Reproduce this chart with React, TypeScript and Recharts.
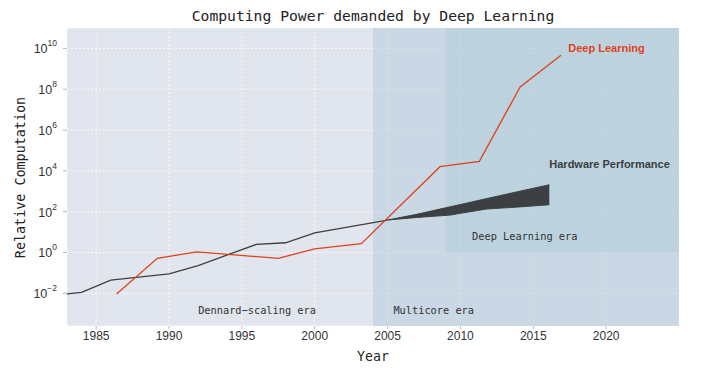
import { Area, CartesianGrid, ComposedChart, Line, ReferenceArea, ReferenceDot, XAxis, YAxis } from 'recharts'

// deep learning demand (relative computation)
const dlYears = [1986.4, 1989.2, 1991.9, 1997.5, 2000.0, 2003.2, 2008.6, 2011.3, 2014.1, 2016.9]
const dlValues = [0.0093, 0.52, 1.07, 0.52, 1.5, 2.7, 1.6e4, 2.9e4, 1.3e8, 4.6e9]

// hardware performance, single line up to 2005
const hwYears = [1983, 1984, 1986, 1990, 1992, 1996, 1998, 2000, 2005]
const hwValues = [0.0093, 0.011, 0.044, 0.089, 0.23, 2.5, 3.0, 9.1, 39]

// hardware performance band after 2005
const bandYears = [2005, 2007, 2009.3, 2010, 2011.8, 2014, 2016.1]
const bandLow = [39, 52, 68, 83, 135, 170, 219]
const bandHigh = [39, 74, 174, 224, 437, 977, 2089]

const xTicks = [1985, 1990, 1995, 2000, 2005, 2010, 2015, 2020]
const yTicks = [1e-2, 1, 1e2, 1e4, 1e6, 1e8, 1e10]

const eraLabels = [
  { text: 'Dennard−scaling era', year: 1992.0, value: 0.0015 },
  { text: 'Multicore era', year: 2005.4, value: 0.0015 },
  { text: 'Deep Learning era', year: 2010.8, value: 6 },
]

const seriesLabels = [
  { text: 'Deep Learning', year: 2017.4, value: 1e10, color: '#e2401c' },
  { text: 'Hardware Performance', year: 2016.1, value: 2.2e4, color: '#3b3e41' },
]

const RED = '#e2401c'
const DARK = '#3d4042'
const MONO = '"DejaVu Sans Mono", monospace'
const SANS = '"Liberation Sans", Arial, sans-serif'
const Y_MIN = 2.5e-4
const Y_MAX = 1e11

const dlData = dlYears.map((year, i) => ({ year, value: dlValues[i] }))
const hwData = hwYears.map((year, i) => ({ year, value: hwValues[i] }))
const bandData = bandYears.map((year, i) => ({ year, range: [bandLow[i], bandHigh[i]] }))

function YTick({ x, y, payload }: any) {
  const exp = Math.round(Math.log10(payload.value))
  const expText = exp < 0 ? `−${-exp}` : `${exp}`
  return (
    <text x={x} y={y + 5} textAnchor="end" fill="#333" fontFamily={SANS} fontSize={12.5}>
      10
      <tspan dy={-7} fontSize={8.5}>{expText}</tspan>
    </text>
  )
}

function XTick({ x, y, payload }: any) {
  return (
    <text x={x} y={y + 9} textAnchor="middle" fill="#333" fontFamily={SANS} fontSize={12}>
      {payload.value}
    </text>
  )
}

function textLabel(text: string, color: string, font: string, size: number, weight: string) {
  return (p: any) => {
    const vb = p.viewBox || {}
    const x = (vb.x ?? 0) + (vb.width ?? 0) / 2
    const y = (vb.y ?? 0) + (vb.height ?? 0) / 2
    return (
      <text x={x} y={y} dy={size * 0.36} textAnchor="start" fill={color} fontFamily={font} fontSize={size} fontWeight={weight}>
        {text}
      </text>
    )
  }
}

export default function App() {
  return (
    <div style={{ position: 'absolute', left: 0, top: 0, width: 728, height: 376, background: '#fff' }}>
      <ComposedChart width={728} height={376} margin={{ top: 28, right: 49, left: 0, bottom: 20 }}>
        <CartesianGrid fill="#e1e5ed" stroke="#ffffff" strokeOpacity={0.75} strokeDasharray="2 2" />
        <ReferenceArea x1={2004} x2={2025} y1={Y_MIN} y2={Y_MAX} fill="#b1cbdb" fillOpacity={0.5} stroke="none" ifOverflow="hidden" />
        <ReferenceArea x1={2009} x2={2025} y1={1} y2={Y_MAX} fill="#9ec7d3" fillOpacity={0.3} stroke="none" ifOverflow="hidden" />
        <XAxis
          type="number"
          dataKey="year"
          domain={[1983, 2025]}
          ticks={xTicks}
          allowDataOverflow
          height={30}
          axisLine={false}
          tickSize={3}
          tickMargin={2}
          tickLine={{ stroke: '#bbb' }}
          tick={<XTick />}
        />
        <YAxis
          type="number"
          scale="log"
          domain={[Y_MIN, Y_MAX]}
          ticks={yTicks}
          allowDataOverflow
          width={67}
          axisLine={false}
          tickSize={4}
          tickMargin={6}
          tickLine={{ stroke: '#bbb' }}
          tick={<YTick />}
        />
        <Line data={hwData} dataKey="value" type="linear" stroke={DARK} strokeWidth={1.3} dot={false} isAnimationActive={false} />
        <Area data={bandData} dataKey="range" type="linear" stroke={DARK} strokeWidth={1} fill={DARK} fillOpacity={1} isAnimationActive={false} />
        <Line data={dlData} dataKey="value" type="linear" stroke={RED} strokeWidth={1.3} dot={false} isAnimationActive={false} />
        {eraLabels.map(l => (
          <ReferenceDot key={l.text} x={l.year} y={l.value} r={0} fill="none" stroke="none"
            label={textLabel(l.text, '#333', MONO, 10.3, 'normal')} />
        ))}
        {seriesLabels.map(l => (
          <ReferenceDot key={l.text} x={l.year} y={l.value} r={0} fill="none" stroke="none"
            label={textLabel(l.text, l.color, SANS, 11, 'bold')} />
        ))}
        <text x={373} y={20.5} textAnchor="middle" fill="#222" fontFamily={MONO} fontSize={14.7}>
          Computing Power demanded by Deep Learning
        </text>
        <text x={373} y={360.5} textAnchor="middle" fill="#222" fontFamily={MONO} fontSize={13.2}>
          Year
        </text>
        <text x={25} y={177.5} textAnchor="middle" fill="#222" fontFamily={MONO} fontSize={13.4}
          transform="rotate(-90, 25, 177.5)">
          Relative Computation
        </text>
      </ComposedChart>
    </div>
  )
}
